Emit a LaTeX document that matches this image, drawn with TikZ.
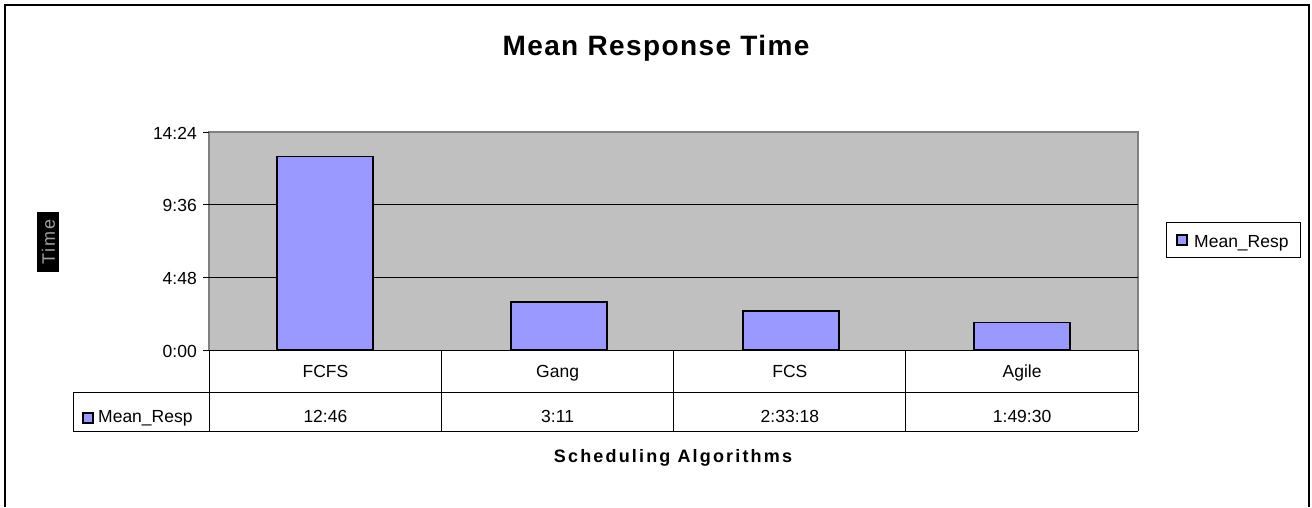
\documentclass[tikz,border=0pt]{standalone}
\usepackage{fontspec}
\setmainfont{Liberation Sans}
\begin{document}
\begin{tikzpicture}[x=1pt,y=-1pt,
  lbl/.style={inner sep=0pt,font=\fontsize{17.5}{20}\selectfont},
  gridln/.style={line width=0.9pt,black},
  tbl/.style={line width=0.9pt,black},
  barbox/.style={fill=barblue,draw=black,line width=1.8pt},
  keybox/.style={fill=barblue,draw=black,line width=1.6pt},
  ttl/.style={inner sep=0pt,font=\fontsize{28}{32}\selectfont\bfseries\addfontfeatures{LetterSpace=5}},
  axttl/.style={inner sep=0pt,font=\fontsize{18}{21}\selectfont\bfseries\addfontfeatures{LetterSpace=12}}]
\definecolor{barblue}{HTML}{9999FF}
\definecolor{plotgray}{HTML}{C0C0C0}
\definecolor{edgegray}{HTML}{808080}
\useasboundingbox (0,0) rectangle (1312,507);
\fill[white] (0,0) rectangle (1312,507);

% chart frame (open at the bottom)
\draw[line width=1.4pt,black] (5,507) -- (5,5) -- (1309,5) -- (1309,507);

% title
\node[ttl,anchor=base] (title) at (656,55) {Mean Response Time};

% plot area
\fill[plotgray] (209,132) rectangle (1138,350);
\draw[edgegray,line width=1.2pt] (209,350) -- (209,132) -- (1138,132) -- (1138,350);

% gridlines
\draw[gridln] (209,204.7) -- (1138,204.7);
\draw[gridln] (209,277.3) -- (1138,277.3);

% value axis ticks and labels
\foreach \y/\t/\n in {132/14:24/a, 204.7/9:36/b, 277.3/4:48/c, 350/0:00/d}{
  \draw[gridln] (203,\y) -- (209,\y);
  \node[lbl,anchor=east] (tick\n) at (197,\y+1) {\t};
}

% bars
\draw[barbox] (277,156.5) rectangle (373,350);
\draw[barbox] (511,301.8) rectangle (607,350);
\draw[barbox] (743,311.3) rectangle (839,350);
\draw[barbox] (974,322.4) rectangle (1070,350);

% data table
\draw[tbl] (209,350) -- (1138,350);
\draw[tbl] (209,392) -- (1138,392);
\draw[tbl] (73,392) -- (209,392);
\draw[tbl] (73,431) -- (1138,431);
\draw[tbl] (73,392) -- (73,431);
\foreach \x in {209,441.5,673.5,905.5,1138}{
  \draw[tbl] (\x,350) -- (\x,431);
}
\foreach \cx/\c/\v/\n in {325.4/FCFS/12:46/a, 557.6/Gang/3:11/b, 789.9/FCS/2:33:18/c, 1022.1/Agile/1:49:30/d}{
  \node[lbl,anchor=base] (cat\n) at (\cx,377) {\c};
  \node[lbl,anchor=base] (val\n) at (\cx,422) {\v};
}
\draw[keybox] (83,413) rectangle (93,423);
\node[lbl,anchor=base west] (tblkey) at (98,422) {Mean\_Resp};

% axis titles
\node[axttl,anchor=base] (xtitle) at (673,462) {Scheduling Algorithms};
\fill[black] (37,212) rectangle (59,272);
\node[inner sep=0pt,rotate=90,text=gray!75,font=\fontsize{18}{20}\selectfont\addfontfeatures{LetterSpace=10}] (ytitle) at (48.5,242) {Time};

% legend
\draw[line width=0.8pt,black] (1166,222) rectangle (1300,257);
\draw[keybox] (1177,235) rectangle (1187,245);
\node[lbl,anchor=base west] (legtext) at (1194,247) {Mean\_Resp};
\end{tikzpicture}
\end{document}
